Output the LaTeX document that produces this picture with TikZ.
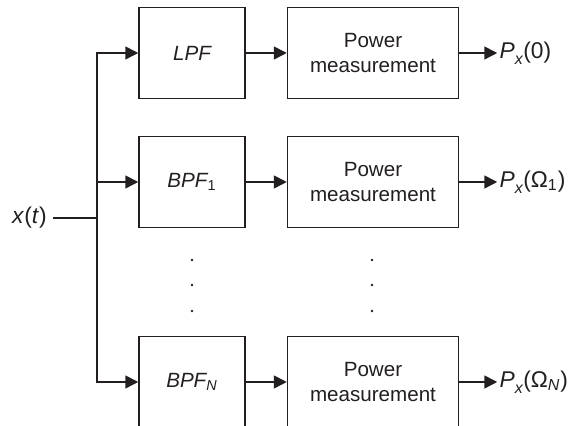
\documentclass[tikz,border=0pt]{standalone}
\usepackage{fontspec}
\setmainfont{Liberation Sans}
\usepackage{tikz}
\usetikzlibrary{positioning,arrows.meta,calc}
\definecolor{ink}{HTML}{231F20}
\tikzset{
  >={Triangle[length=6.5pt,width=6.5pt]},
  every node/.style={font=\fontsize{10.3}{12.4}\selectfont, text=ink},
  % --- nodes
  filt/.style  = {draw=ink, line width=0.75pt, minimum width=53pt,
                  minimum height=45.5pt, inner sep=0pt, font=\fontsize{10.3}{12.4}\selectfont\itshape},
  pmeas/.style = {filt, minimum width=85.5pt, align=center, font=\fontsize{10.3}{12.4}\selectfont},
  outl/.style  = {anchor=west, inner sep=1pt, font=\fontsize{11.4}{13.6}\selectfont},
  % --- edges
  e/.style     = {->, line width=0.75pt, draw=ink},
  wire/.style  = {line width=0.75pt, draw=ink},
}
\newcommand{\Px}[1]{\textit{P}\raisebox{-0.5ex}{\footnotesize\textit{x}}(#1)}

\begin{document}
\begin{tikzpicture}[x=0.5pt,y=-0.5pt]
  \useasboundingbox (0,0) rectangle (580,426);
  % filters
  \node[filt] (lpf)  at (192,53)  {LPF};
  \node[filt] (bpf1) at (192,182) {BPF\textsubscript{\upshape 1}};
  \node[filt] (bpfn) at (192,382) {BPF\textsubscript{N}};
  % power measurement
  \node[pmeas, right=20.5pt of lpf]  (pm0) {Power\\measurement};
  \node[pmeas, right=20.5pt of bpf1] (pm1) {Power\\measurement};
  \node[pmeas, right=20.5pt of bpfn] (pmn) {Power\\measurement};
  % outputs
  \node[outl, right=19pt of pm0.east, anchor=west] (o0) {\Px{0}};
  \node[outl, right=19pt of pm1.east, anchor=west] (o1) {\Px{Ω\textsubscript{1}}};
  \node[outl, right=19pt of pmn.east, anchor=west] (on) {\Px{Ω\textsubscript{\textit{N}}}};
  % input
  \node[outl, anchor=east] (x) at (49,218) {\textit{x}(\textit{t})};
  \coordinate (bus) at (97,218);
  \draw[wire] (x.east) ++(4,0) -- (bus);
  \draw[e] (bus) |- (lpf.west);
  \draw[e] (bus) -- (bus|-bpf1.west) -- (bpf1.west);
  \draw[e] (bus) |- (bpfn.west);
  \draw[e] (lpf) -- (pm0);  \draw[e] (bpf1) -- (pm1);  \draw[e] (bpfn) -- (pmn);
  \draw[e] (pm0) -- (o0);   \draw[e] (pm1) -- (o1);    \draw[e] (pmn) -- (on);
  % dots
  \foreach \y in {260,285,311}{
    \fill[ink] (192,\y) circle (0.65pt);
    \fill[ink] (372,\y) circle (0.65pt);
  }
\end{tikzpicture}
\end{document}
